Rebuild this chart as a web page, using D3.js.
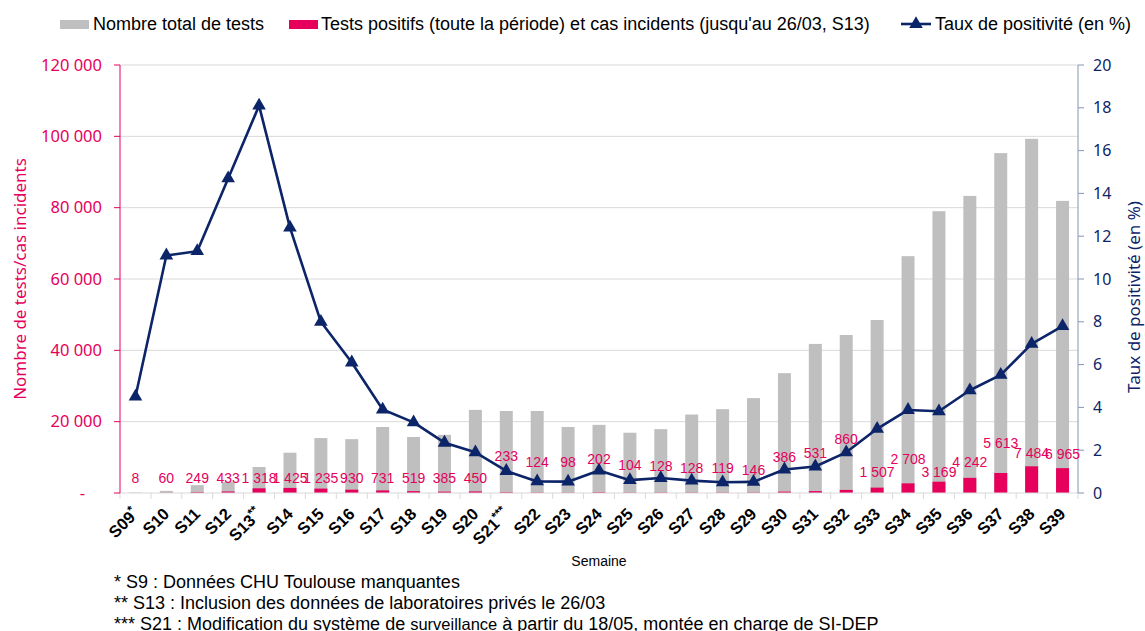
<!DOCTYPE html>
<html>
<head>
<meta charset="utf-8">
<script src="https://cdn.jsdelivr.net/npm/d3@7"></script>
<style>
  body { margin: 0; background: #fff; }
  svg { display: block; }
</style>
</head>
<body>
<svg id="chart" width="1145" height="631"></svg>
<script>
const weeks = ['S09','S10','S11','S12','S13','S14','S15','S16','S17','S18','S19','S20','S21','S22','S23','S24',
  'S25','S26','S27','S28','S29','S30','S31','S32','S33','S34','S35','S36','S37','S38','S39'];
const weekNotes = ['*','','','','**','','','','','','','','***','','','','','','','','','','','','','','','','','',''];

const totalTests = [100, 600, 2200, 3100, 7300, 11300, 15400, 15100, 18500, 15700, 16300, 23300, 23000, 23000, 18500, 19100,
  16900, 17900, 22000, 23500, 26600, 33600, 41800, 44300, 48500, 66400, 79000, 83300, 95300, 99300, 81900];
const positiveTests = [8, 60, 249, 433, 1318, 1425, 1235, 930, 731, 519, 385, 450, 233, 124, 98, 202,
  104, 128, 128, 119, 146, 386, 531, 860, 1507, 2708, 3169, 4242, 5613, 7484, 6965];
const positivityRate = [4.5, 11.1, 11.3, 14.7, 18.1, 12.4, 8.0, 6.1, 3.9, 3.3, 2.35, 1.9, 1.03, 0.54, 0.53, 1.05,
  0.6, 0.7, 0.58, 0.5, 0.52, 1.1, 1.24, 1.9, 3.0, 3.88, 3.82, 4.8, 5.52, 6.97, 7.8];
// height (in number of tests) where each positive-count label sits
const labelLevel = [4300, 4300, 4300, 4300, 4300, 4300, 4300, 4300, 4300, 4300, 4300, 4300, 10400, 8700, 8700, 9400,
  7900, 7600, 7000, 7000, 6500, 10200, 11300, 15100, 6000, 9500, 6000, 8600, 13900, 11300, 10900];

const leftTicks = [0, 20000, 40000, 60000, 80000, 100000, 120000];
const rightTicks = [0, 2, 4, 6, 8, 10, 12, 14, 16, 18, 20];

const footnotes = [
  ['* S9 : Données CHU Toulouse manquantes'],
  ['** S13 : Inclusion des données de laboratoires privés le 26/03'],
  ['*** S21 : Modification du système de ', 'surveillance', ' à partir du 18/05, montée en charge de SI-DEP']
];

const PINK = '#e6005c';
const NAVY = '#0c2468';
const GREY = '#bfbfbf';
const GRID = '#d9d9d9';
const ARIAL = '"Liberation Sans", Arial, sans-serif';
const CALIBRI = '"Noto Sans", "Open Sans", sans-serif';

const margin = { left: 120, right: 1078, top: 65, bottom: 493 };

const svg = d3.select('#chart');

const x = d3.scaleBand().domain(weeks).range([margin.left, margin.right]).paddingInner(0.58).paddingOuter(0.29);
const xb = d3.scaleBand().domain(weeks).range([margin.left, margin.right]);
const yL = d3.scaleLinear().domain([0, 120000]).range([margin.bottom, margin.top]);
const yR = d3.scaleLinear().domain([0, 20]).range([margin.bottom, margin.top]);

const fr = d3.formatLocale({ decimal: ',', thousands: ' ', grouping: [3], currency: ['', '€'] });
const fmt = fr.format(',');

// gridlines
svg.append('g')
  .selectAll('line')
  .data(leftTicks.filter(d => d > 0))
  .join('line')
  .attr('x1', margin.left).attr('x2', margin.right)
  .attr('y1', d => yL(d)).attr('y2', d => yL(d))
  .attr('stroke', GRID).attr('stroke-width', 1);

// bars
svg.append('g')
  .selectAll('rect')
  .data(weeks)
  .join('rect')
  .attr('x', (d) => x(d))
  .attr('width', x.bandwidth())
  .attr('y', (d, i) => yL(totalTests[i]))
  .attr('height', (d, i) => yL(0) - yL(totalTests[i]))
  .attr('fill', GREY);

svg.append('g')
  .selectAll('rect')
  .data(weeks)
  .join('rect')
  .attr('x', (d) => x(d))
  .attr('width', x.bandwidth())
  .attr('y', (d, i) => yL(positiveTests[i]))
  .attr('height', (d, i) => yL(0) - yL(positiveTests[i]))
  .attr('fill', PINK);

// x axis
const xAxis = svg.append('g').attr('transform', `translate(0,${margin.bottom})`);
xAxis.append('line')
  .attr('x1', margin.left).attr('x2', margin.right)
  .attr('stroke', GRID).attr('stroke-width', 1);
xAxis.selectAll('line.tick')
  .data(weeks.concat(['end']))
  .join('line')
  .attr('class', 'tick')
  .attr('x1', (d, i) => margin.left + i * xb.step())
  .attr('x2', (d, i) => margin.left + i * xb.step())
  .attr('y1', 0).attr('y2', 6)
  .attr('stroke', GRID);

const xl = svg.append('g')
  .selectAll('text')
  .data(weeks)
  .join('text')
  .attr('transform', d => `translate(${xb(d) + xb.bandwidth() / 2 + 4},${margin.bottom + 22}) rotate(-45)`)
  .attr('text-anchor', 'end')
  .attr('font-family', ARIAL)
  .attr('font-weight', 'bold')
  .attr('font-size', 16.5)
  .attr('fill', '#000');
xl.append('tspan').text(d => d);
xl.append('tspan')
  .attr('font-size', 12)
  .attr('dy', -6)
  .text((d, i) => weekNotes[i]);

// left axis
const leftAxis = svg.append('g').attr('transform', `translate(${margin.left},0)`);
leftAxis.append('line')
  .attr('y1', margin.top).attr('y2', margin.bottom)
  .attr('stroke', PINK).attr('stroke-width', 1);
leftAxis.selectAll('line.tick')
  .data(leftTicks)
  .join('line')
  .attr('class', 'tick')
  .attr('x1', -6).attr('x2', 0)
  .attr('y1', d => yL(d)).attr('y2', d => yL(d))
  .attr('stroke', PINK);
leftAxis.selectAll('text')
  .data(leftTicks)
  .join('text')
  .attr('x', d => d === 0 ? -35 : -18)
  .attr('y', d => yL(d))
  .attr('dy', '0.35em')
  .attr('text-anchor', 'end')
  .attr('font-family', CALIBRI)
  .attr('font-size', 16.5)
  .attr('fill', PINK)
  .text(d => d === 0 ? '-' : fmt(d));

svg.append('text')
  .attr('transform', `translate(26,${(margin.top + margin.bottom) / 2}) rotate(-90)`)
  .attr('text-anchor', 'middle')
  .attr('font-family', CALIBRI)
  .attr('font-size', 17)
  .attr('fill', PINK)
  .text('Nombre de tests/cas incidents');

// right axis
const rightAxis = svg.append('g').attr('transform', `translate(${margin.right},0)`);
rightAxis.append('line')
  .attr('y1', margin.top).attr('y2', margin.bottom)
  .attr('stroke', '#8497b0').attr('stroke-width', 1);
rightAxis.selectAll('line.tick')
  .data(rightTicks)
  .join('line')
  .attr('class', 'tick')
  .attr('x1', 0).attr('x2', 6)
  .attr('y1', d => yR(d)).attr('y2', d => yR(d))
  .attr('stroke', '#8497b0');
rightAxis.selectAll('text')
  .data(rightTicks)
  .join('text')
  .attr('x', 15)
  .attr('y', d => yR(d))
  .attr('dy', '0.35em')
  .attr('text-anchor', 'start')
  .attr('font-family', CALIBRI)
  .attr('font-size', 16)
  .attr('fill', NAVY)
  .text(d => d);

svg.append('text')
  .attr('transform', `translate(1140,${(margin.top + margin.bottom) / 2 + 18}) rotate(-90)`)
  .attr('text-anchor', 'middle')
  .attr('font-family', CALIBRI)
  .attr('font-size', 17)
  .attr('fill', NAVY)
  .text('Taux de positivité (en %)');

// positivity line
const cx = d => xb(d) + xb.bandwidth() / 2;
const line = d3.line()
  .x(d => cx(d))
  .y((d, i) => yR(positivityRate[i]));

svg.append('path')
  .datum(weeks)
  .attr('d', line)
  .attr('fill', 'none')
  .attr('stroke', NAVY)
  .attr('stroke-width', 2.6)
  .attr('stroke-linejoin', 'round');

svg.append('g')
  .selectAll('path')
  .data(weeks)
  .join('path')
  .attr('transform', (d, i) => `translate(${cx(d)},${yR(positivityRate[i])})`)
  .attr('d', d3.symbol(d3.symbolTriangle, 80))
  .attr('fill', NAVY);

// positive-count labels
svg.append('g')
  .selectAll('text')
  .data(weeks)
  .join('text')
  .attr('x', d => cx(d))
  .attr('y', (d, i) => yL(labelLevel[i]))
  .attr('dy', '0.35em')
  .attr('text-anchor', 'middle')
  .attr('font-family', ARIAL)
  .attr('font-size', 14)
  .attr('fill', PINK)
  .text((d, i) => fmt(positiveTests[i]));

// x axis title
svg.append('text')
  .attr('x', 599).attr('y', 566)
  .attr('text-anchor', 'middle')
  .attr('font-family', ARIAL)
  .attr('font-size', 14)
  .attr('fill', '#000')
  .text('Semaine');

// footnotes
const notes = svg.append('g')
  .selectAll('text')
  .data(footnotes)
  .join('text')
  .attr('x', 114)
  .attr('y', (d, i) => 588 + i * 21)
  .attr('font-family', ARIAL)
  .attr('font-size', 18)
  .attr('fill', '#000');
notes.selectAll('tspan')
  .data(d => d)
  .join('tspan')
  .attr('font-size', (d, i) => i === 1 ? 16.5 : null)
  .text(d => d);

// legend
const legend = svg.append('g').attr('font-family', ARIAL).attr('font-size', 18).attr('fill', '#000');
legend.append('rect').attr('x', 60).attr('y', 20).attr('width', 29).attr('height', 9).attr('fill', GREY);
legend.append('text').attr('x', 93).attr('y', 30).text('Nombre total de tests');
legend.append('rect').attr('x', 289).attr('y', 20).attr('width', 29).attr('height', 9).attr('fill', PINK);
legend.append('text').attr('x', 321).attr('y', 30).text("Tests positifs (toute la période) et cas incidents (jusqu'au 26/03, S13)");
legend.append('line').attr('x1', 901).attr('x2', 931).attr('y1', 24).attr('y2', 24)
  .attr('stroke', NAVY).attr('stroke-width', 2.6);
legend.append('path').attr('transform', 'translate(916,24)')
  .attr('d', d3.symbol(d3.symbolTriangle, 80)).attr('fill', NAVY);
legend.append('text').attr('x', 935).attr('y', 30).text('Taux de positivité (en %)');
</script>
</body>
</html>
